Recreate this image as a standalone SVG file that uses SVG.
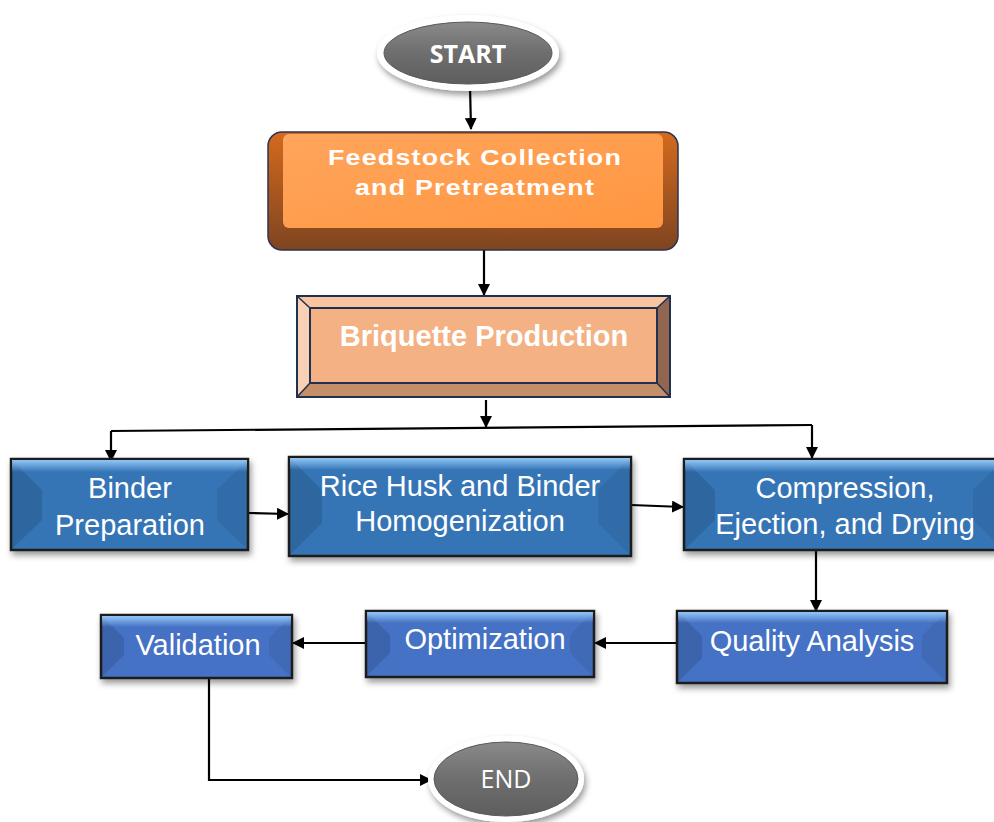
<svg xmlns="http://www.w3.org/2000/svg" width="994" height="822" viewBox="0 0 994 822">
<defs>
<style>
.lbl{font-family:"Liberation Sans",Arial,sans-serif;fill:#fff;font-size:29px;text-anchor:middle}
.bold{font-weight:bold}
.feed{font-size:22px;letter-spacing:1px}
.oval{font-family:"Open Sans","Liberation Sans",sans-serif;fill:#fff;font-size:25px;text-anchor:middle}
.edge{fill:none;stroke:#000;stroke-width:2.2}
.bx{stroke:#1a1a1a;stroke-width:2.5}
.sideL{fill:#000;opacity:0.12}
.sideR{fill:#000;opacity:0.07}
</style>
<marker id="ah" viewBox="0 0 12 12" refX="11" refY="6" markerWidth="12" markerHeight="12" markerUnits="userSpaceOnUse" orient="auto">
<path d="M0,0 L12,6 L0,12 z" fill="#000"/>
</marker>
<filter id="sh" x="-10%" y="-10%" width="125%" height="140%">
<feDropShadow dx="2" dy="4" stdDeviation="3" flood-color="#000" flood-opacity="0.4"/>
</filter>
<linearGradient id="topHi" x1="0" y1="0" x2="0" y2="1">
<stop offset="0" stop-color="#9cd0ff" stop-opacity="0.9"/>
<stop offset="1" stop-color="#9cd0ff" stop-opacity="0"/>
</linearGradient>
<linearGradient id="gray" x1="0" y1="0" x2="0" y2="1">
<stop offset="0" stop-color="#8a8a8a"/>
<stop offset="0.5" stop-color="#6e6e6e"/>
<stop offset="1" stop-color="#5e5e5e"/>
</linearGradient>
<linearGradient id="orTop" x1="0" y1="0" x2="1" y2="1">
<stop offset="0" stop-color="#ffa55c"/>
<stop offset="1" stop-color="#ff9640"/>
</linearGradient>
<linearGradient id="orSide" x1="0" y1="0" x2="0" y2="1">
<stop offset="0" stop-color="#d46a1e"/>
<stop offset="1" stop-color="#7e4420"/>
</linearGradient>
</defs>

<g id="connectors">
<path class="edge" d="M470,86 L471,129" marker-end="url(#ah)"/>
<path class="edge" d="M484,250 L484,295" marker-end="url(#ah)"/>
<path class="edge" d="M486,400 L486,427" marker-end="url(#ah)"/>
<path class="edge" d="M111,431 L812,425"/>
<path class="edge" d="M111,431 L111,461" marker-end="url(#ah)"/>
<path class="edge" d="M812,425 L812,458" marker-end="url(#ah)"/>
<path class="edge" d="M248,513 L288,514" marker-end="url(#ah)"/>
<path class="edge" d="M631,505 L683,507" marker-end="url(#ah)"/>
<path class="edge" d="M816,550 L816,611" marker-end="url(#ah)"/>
<path class="edge" d="M677,643 L595,643" marker-end="url(#ah)"/>
<path class="edge" d="M366,643 L293,643" marker-end="url(#ah)"/>
<path class="edge" d="M136,678 L209,678 L209,780 L431,780" marker-end="url(#ah)"/>
</g>

<g id="start">
<ellipse cx="468" cy="53" rx="91" ry="38" fill="#fff" filter="url(#sh)"/>
<ellipse cx="468" cy="53" rx="84" ry="31" fill="url(#gray)" stroke="#5a5a5a" stroke-width="1"/>
<text class="oval" x="468" y="63" font-weight="bold">START</text>
</g>

<g id="feedstock">
<rect x="268" y="132" width="410" height="118" rx="14" fill="url(#orSide)" stroke="#2a3550" stroke-width="1.5"/>
<rect x="283" y="134" width="380" height="94" rx="6" fill="url(#orTop)"/>
<text class="lbl bold feed" transform="translate(475,165) scale(1.22,1)" x="0" y="0">Feedstock Collection</text>
<text class="lbl bold feed" transform="translate(475,195) scale(1.22,1)" x="0" y="0">and Pretreatment</text>
</g>

<g id="briquette">
<rect x="297" y="296" width="373" height="101" fill="#f4b183"/>
<polygon points="297,296 670,296 657,308 310,308" fill="#f8c5a0"/>
<polygon points="297,296 310,308 310,383 297,397" fill="#f8d0b5"/>
<polygon points="670,296 670,397 657,383 657,308" fill="#906650"/>
<polygon points="297,397 310,383 657,383 670,397" fill="#c48e68"/>
<rect x="297" y="296" width="373" height="101" fill="none" stroke="#1f3050" stroke-width="2"/>
<rect x="310" y="308" width="347" height="75" fill="none" stroke="#1f3050" stroke-width="2"/>
<line x1="297" y1="296" x2="310" y2="308" stroke="#1f3050" stroke-width="1.5"/>
<line x1="670" y1="296" x2="657" y2="308" stroke="#1f3050" stroke-width="1.5"/>
<line x1="297" y1="397" x2="310" y2="383" stroke="#1f3050" stroke-width="1.5"/>
<line x1="670" y1="397" x2="657" y2="383" stroke="#1f3050" stroke-width="1.5"/>
<text class="lbl bold" x="484" y="346">Briquette Production</text>
</g>

<g id="binder">
<rect class="bx" x="11" y="459" width="237" height="91" fill="#3474b6" filter="url(#sh)"/>
<polygon class="sideL" points="12,460 42,490 42,520 12,549"/>
<polygon class="sideR" points="247,460 217,490 217,520 247,549"/>
<rect x="12" y="460" width="235" height="12" fill="url(#topHi)"/>
<text class="lbl" x="130" y="498">Binder</text>
<text class="lbl" x="130" y="535">Preparation</text>
</g>

<g id="ricehusk">
<rect class="bx" x="289" y="457" width="342" height="99" fill="#3474b6" filter="url(#sh)"/>
<polygon class="sideL" points="290,458 322,490 322,523 290,555"/>
<polygon class="sideR" points="630,458 598,490 598,523 630,555"/>
<rect x="290" y="458" width="340" height="12" fill="url(#topHi)"/>
<text class="lbl" x="460" y="496">Rice Husk and Binder</text>
<text class="lbl" x="460" y="531">Homogenization</text>
</g>

<g id="compression">
<rect class="bx" x="684" y="459" width="320" height="91" fill="#3474b6" filter="url(#sh)"/>
<polygon class="sideL" points="685,460 715,490 715,520 685,549"/>
<polygon class="sideR" points="1003,460 973,490 973,520 1003,549"/>
<rect x="685" y="460" width="318" height="12" fill="url(#topHi)"/>
<text class="lbl" x="845" y="498">Compression,</text>
<text class="lbl" x="845" y="534">Ejection, and Drying</text>
</g>

<g id="quality">
<rect class="bx" x="677" y="611" width="270" height="72" fill="#4472c4" filter="url(#sh)"/>
<polygon class="sideL" points="678,612 702,636 702,658 678,682"/>
<polygon class="sideR" points="946,612 922,636 922,658 946,682"/>
<rect x="678" y="612" width="268" height="11" fill="url(#topHi)"/>
<text class="lbl" x="812" y="651">Quality Analysis</text>
</g>

<g id="optimization">
<rect class="bx" x="366" y="611" width="228" height="66" fill="#4472c4" filter="url(#sh)"/>
<polygon class="sideL" points="367,612 390,635 390,653 367,676"/>
<polygon class="sideR" points="593,612 570,635 570,653 593,676"/>
<rect x="367" y="612" width="226" height="11" fill="url(#topHi)"/>
<text class="lbl" x="485" y="649">Optimization</text>
</g>

<g id="validation">
<rect class="bx" x="101" y="615" width="191" height="63" fill="#4472c4" filter="url(#sh)"/>
<polygon class="sideL" points="102,616 124,638 124,655 102,677"/>
<polygon class="sideR" points="291,616 269,638 269,655 291,677"/>
<rect x="102" y="616" width="189" height="11" fill="url(#topHi)"/>
<text class="lbl" x="198" y="655">Validation</text>
</g>

<g id="end">
<ellipse cx="506" cy="779" rx="78" ry="43" fill="#fff" filter="url(#sh)"/>
<ellipse cx="506" cy="779" rx="72" ry="37" fill="url(#gray)" stroke="#5a5a5a" stroke-width="1"/>
<text class="oval" x="506" y="788">END</text>
</g>
</svg>
